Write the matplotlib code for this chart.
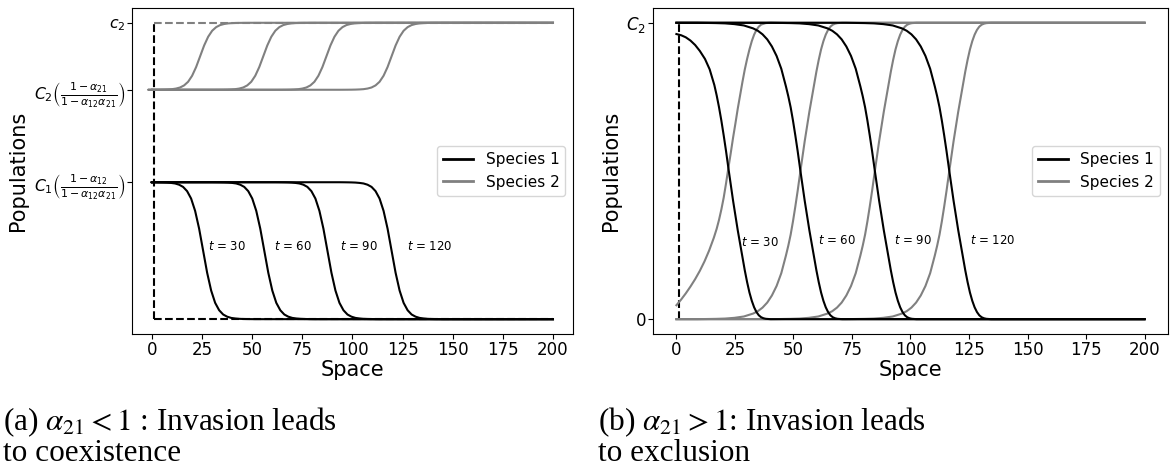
import numpy as np
import matplotlib
matplotlib.use("Agg")
import matplotlib.pyplot as plt

plt.rcParams['font.family'] = ['DejaVu Sans']
plt.rcParams['mathtext.fontset'] = 'dejavusans'

# ---- data ---------------------------------------------------------------
times = [30, 60, 90, 120]

# panel (a): coexistence
level_c2 = 1.0
level_C2 = 0.774
level_C1 = 0.462
fronts_a_sp1 = [25.5, 56.0, 87.5, 119.5]
fronts_a_sp2 = [24.0, 55.5, 87.0, 119.5]
# one front: share of the jump still left vs distance from its centre
prof_a_offset = [-26, -24, -22, -20, -18, -16, -14, -12, -10, -8, -6, -4, -2, 0,
                 2, 4, 6, 8, 10, 12, 14, 16, 18, 20, 22, 24, 26]
prof_a_drop = [1.0, 0.9997, 0.9993, 0.9987, 0.9975, 0.995, 0.991, 0.982, 0.966, 0.935,
               0.881, 0.791, 0.661, 0.5, 0.339, 0.209, 0.119, 0.065, 0.034, 0.018,
               0.009, 0.005, 0.0025, 0.0013, 0.0007, 0.0003, 0.0]
label_a_x = [28, 61, 94, 127]
label_a_y = [0.245, 0.245, 0.245, 0.245]

# panel (b): exclusion
fronts_b = [52.8, 84.6, 116.4]          # t = 60, 90, 120
prof_b_offset = [-44, -36, -32, -28, -24, -20, -18, -16, -14, -12, -10, -8, -6, -5, -4,
                 -3, -2, -1, 0, 1, 2, 3, 4, 5, 6, 7, 8, 9, 10, 11, 12, 13, 14, 15, 16, 18, 22]
prof_b_sp1 = [1.0, 0.999, 0.998, 0.9955, 0.991, 0.981, 0.973, 0.961, 0.944, 0.92, 0.888,
              0.845, 0.785, 0.752, 0.715, 0.67, 0.62, 0.567, 0.51, 0.455, 0.40, 0.35, 0.30,
              0.255, 0.21, 0.165, 0.125, 0.09, 0.062, 0.04, 0.024, 0.013, 0.0065, 0.003,
              0.0012, 0.0, 0.0]
prof_b_sp2 = [0.0, 0.001, 0.002, 0.0045, 0.009, 0.019, 0.027, 0.039, 0.056, 0.08, 0.112,
              0.155, 0.215, 0.248, 0.285, 0.33, 0.38, 0.433, 0.49, 0.545, 0.60, 0.65, 0.70,
              0.745, 0.79, 0.835, 0.875, 0.91, 0.938, 0.96, 0.976, 0.987, 0.9935, 0.997,
              0.9988, 1.0, 1.0]
# t = 30 curves feel the left boundary, read separately
b30_sp1_x = [0, 2, 4, 6, 8, 10, 12.2, 14.2, 16.2, 17.2, 18.2, 19.2, 20.2, 21.2, 22.2, 23.2,
             24.2, 25.2, 26.2, 27.2, 28.2, 29.2, 30.2, 31.2, 32.2, 33.2, 34.2, 35.2, 36.2,
             37.2, 38.2, 40.2, 200]
b30_sp1_y = [0.962, 0.958, 0.951, 0.94, 0.925, 0.905, 0.878, 0.843, 0.79, 0.755, 0.715,
             0.67, 0.62, 0.567, 0.51, 0.455, 0.40, 0.35, 0.30, 0.255, 0.21, 0.165, 0.125,
             0.09, 0.062, 0.04, 0.024, 0.013, 0.0065, 0.003, 0.0012, 0.0, 0.0]
b30_sp2_x = [0, 2, 4, 6, 8, 10, 12, 14, 16, 17.2, 18.2, 19.2, 20.2, 21.2, 22.2, 23.2, 24.2,
             25.2, 26.2, 27.2, 28.2, 29.2, 30.2, 31.2, 32.2, 33.2, 34.2, 35.2, 36.2, 38.2,
             40.2, 200]
b30_sp2_y = [0.047, 0.066, 0.087, 0.11, 0.135, 0.163, 0.195, 0.232, 0.275, 0.305, 0.335,
             0.37, 0.41, 0.458, 0.51, 0.56, 0.612, 0.66, 0.71, 0.755, 0.8, 0.842, 0.878,
             0.91, 0.938, 0.96, 0.976, 0.987, 0.994, 0.999, 1.0, 1.0]
label_b_x = [27.4, 60.3, 92.8, 125.3]
label_b_y = [0.257, 0.265, 0.265, 0.265]

x_end = 200
lw = 1.5

fig = plt.figure(figsize=(11.73, 4.74), dpi=100)
ax1 = fig.add_axes([0.1125, 0.2954, 0.376, 0.6878])
ax2 = fig.add_axes([0.5567, 0.2954, 0.439, 0.6878])

# ---- (a) ----------------------------------------------------------------
ax1.plot([1, x_end], [level_c2, level_c2], '--', color='gray', lw=lw)
ax1.plot([1, x_end], [0, 0], '--', color='black', lw=lw)
ax1.plot([1, 1], [0, level_c2], '--', color='black', lw=lw)

off = np.array(prof_a_offset)
drop = np.array(prof_a_drop)
for f in fronts_a_sp2:
    xs = np.concatenate([[0], f + off, [x_end]])
    ys = level_C2 + (level_c2 - level_C2) * np.concatenate([[0], 1 - drop, [1]])
    ax1.plot(xs, ys, color='gray', lw=lw)
for f in fronts_a_sp1:
    xs = np.concatenate([[0], f + off, [x_end]])
    ys = level_C1 * np.concatenate([[1], drop, [0]])
    ax1.plot(xs, ys, color='black', lw=lw)

for t, x, y in zip(times, label_a_x, label_a_y):
    ax1.text(x, y, f'$t$ = {t}', fontsize=8.5, va='center', ha='left')

ax1.set_yticks([level_C1, level_C2, level_c2])
ax1.set_yticklabels([r'$C_1\left(\frac{1-\alpha_{12}}{1-\alpha_{12}\alpha_{21}}\right)$',
                     r'$C_2\left(\frac{1-\alpha_{21}}{1-\alpha_{12}\alpha_{21}}\right)$',
                     r'$c_2$'])

# ---- (b) ----------------------------------------------------------------
ax2.plot([1, 1], [0, 1], '--', color='black', lw=lw)
offb = np.array(prof_b_offset)
ax2.plot(b30_sp2_x, b30_sp2_y, color='gray', lw=lw)
for f in fronts_b:
    xs = np.concatenate([[0], f + offb, [x_end]])
    ys = np.concatenate([[0], prof_b_sp2, [1]])
    ax2.plot(xs, ys, color='gray', lw=lw)
ax2.plot(b30_sp1_x, b30_sp1_y, color='black', lw=lw)
for f in fronts_b:
    xs = np.concatenate([[0], f + offb, [x_end]])
    ys = np.concatenate([[1], prof_b_sp1, [0]])
    ax2.plot(xs, ys, color='black', lw=lw)

for t, x, y in zip(times, label_b_x, label_b_y):
    ax2.text(x, y, f'$t$ = {t}', fontsize=8.5, va='center', ha='left')

ax2.set_yticks([0, 1])
ax2.set_yticklabels(['0', r'$C_2$'])

# ---- common -------------------------------------------------------------
for ax in (ax1, ax2):
    ax.set_xlim(-10, 210)
    ax.set_ylim(-0.05, 1.05)
    ax.set_xticks([0, 25, 50, 75, 100, 125, 150, 175, 200])
    ax.tick_params(labelsize=12, pad=1.5)
    ax.set_xlabel('Space', fontsize=15, labelpad=1)
    ax.set_ylabel('Populations', fontsize=15)
    h1, = ax.plot([], [], color='black', lw=2, label='Species 1')
    h2, = ax.plot([], [], color='gray', lw=2, label='Species 2')
    ax.legend(handles=[h1, h2], loc='center right', fontsize=11)
ax1.tick_params(axis='y', labelsize=11.3)

# captions
cap = dict(fontsize=22.5, family='Liberation Serif', math_fontfamily='stix', va='baseline')
fig.text(3 / 1173, 1 - 430 / 474, r'(a) $\alpha_{21} < 1$ : Invasion leads', **cap)
fig.text(3 / 1173, 1 - 461 / 474, 'to coexistence', **cap)
fig.text(598 / 1173, 1 - 430 / 474, r'(b) $\alpha_{21} > 1$: Invasion leads', **cap)
fig.text(598 / 1173, 1 - 461 / 474, 'to exclusion', **cap)

fig.savefig('out.png', dpi=100)
